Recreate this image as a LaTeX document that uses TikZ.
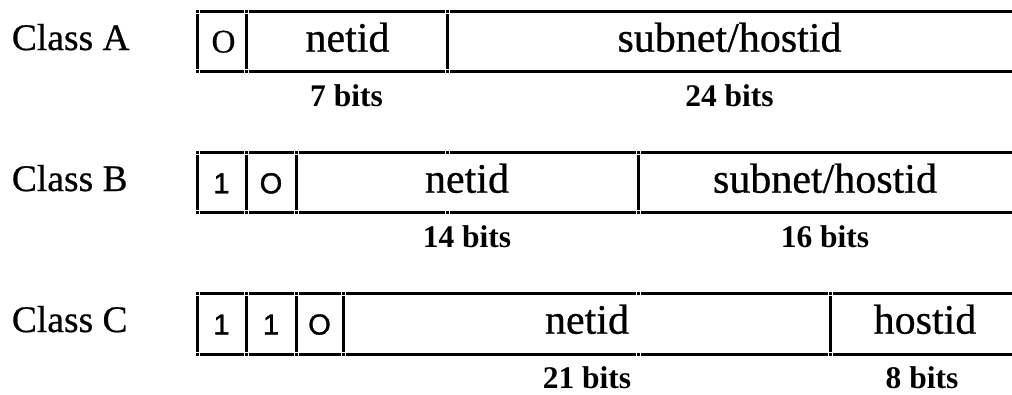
\documentclass[tikz,border=0pt]{standalone}
\usepackage{fontspec}
\setmainfont[FakeBold=0.6]{Liberation Serif}
\newfontfamily\bitfont[FakeBold=1.2]{Liberation Sans}
\newfontfamily\sizefont{Liberation Serif}
\begin{document}
\begin{tikzpicture}[x=1pt,y=-1pt,
  rule/.style={line width=3pt,shorten <=2.5pt,shorten >=2.5pt},
  classlbl/.style={anchor=base west,inner sep=0,font=\fontsize{37.5}{40}\selectfont},
  field/.style={anchor=base,inner sep=0,font=\fontsize{42}{46}\selectfont},
  bitval/.style={anchor=base,inner sep=0,font=\bitfont\fontsize{29}{33}\selectfont},
  width/.style={anchor=base,inner sep=0,font=\sizefont\bfseries\fontsize{31.5}{35}\selectfont}]
\useasboundingbox (0,0) rectangle (1012,394);

% horizontal rules of a row, split at every junction, with a dot at each joint
\newcommand\hsegs[2]{%
  \foreach \a/\b in {#2}{%
    \draw[rule] (\a,#1) -- (\b,#1);
    \fill (\a-1.5,#1-1.5) rectangle (\a+1.5,#1+1.5);}}
% vertical field separators
\newcommand\vsegs[3]{%
  \foreach \a in {#3}{\draw[rule] (\a,#1) -- (\a,#2);}}

% ---- Class A ----
\hsegs{11}{197/246,246/447,447/1016}
\hsegs{71}{197/246,246/447,447/1016}
\vsegs{11}{71}{197,246,447}
\node[classlbl] (ca) at (11.7,50) {Class A};
\node[anchor=base,inner sep=0,font=\fontsize{33}{36}\selectfont] (a0) at (223.5,52.5) {O};
\node[field] (anet) at (347.5,51.7) {netid};
\node[field] (ahost) at (729.5,51.7) {subnet/hostid};
\node[width] (aw1) at (346.5,106.7) {7 bits};
\node[width] (aw2) at (729.5,106.7) {24 bits};

% ---- Class B ----
\hsegs{152}{197/246,246/296,296/447,447/638.5,638.5/1016}
\hsegs{212.5}{197/246,246/296,296/447,447/638.5,638.5/1016}
\vsegs{152}{212.5}{197,246,296,638.5}
\node[classlbl] (cb) at (11.7,191) {Class B};
\node[bitval] (b1) at (221.5,193.3) {1};
\node[bitval] (b0) at (271,193.3) {O};
\node[field] (bnet) at (467,192.7) {netid};
\node[field] (bhost) at (825,192.7) {subnet/hostid};
\node[width] (bw1) at (467,247.7) {14 bits};
\node[width] (bw2) at (825,247.7) {16 bits};

% ---- Class C ----
\hsegs{293.5}{197/246,246/296,296/343,343/638.5,638.5/830.5,830.5/1016}
\hsegs{354}{197/246,246/296,296/343,343/638.5,638.5/830.5,830.5/1016}
\vsegs{293.5}{354}{197,246,296,343,830.5}
\node[classlbl] (cc) at (11.7,332) {Class C};
\node[bitval] (c1) at (221.5,334.5) {1};
\node[bitval] (c2) at (271,334.5) {1};
\node[bitval] (c0) at (319.5,334.5) {O};
\node[field] (cnet) at (587,333.7) {netid};
\node[field] (chost) at (925,333.7) {hostid};
\node[width] (cw1) at (587,388.7) {21 bits};
\node[width] (cw2) at (922,388.7) {8 bits};
\end{tikzpicture}
\end{document}
